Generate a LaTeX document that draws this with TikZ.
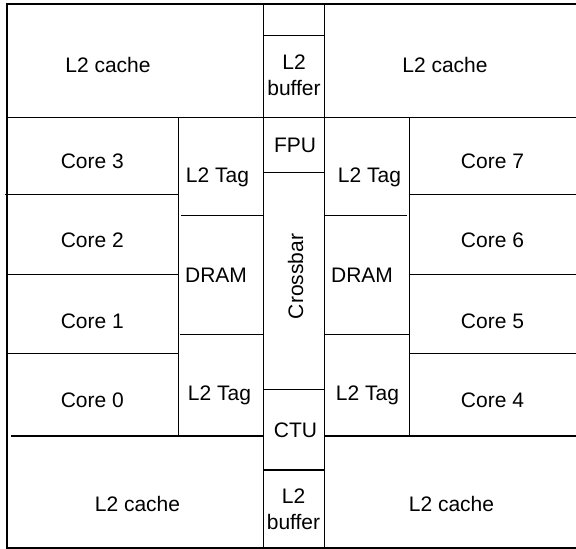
\documentclass[tikz,border=0pt]{standalone}
\usepackage{fontspec}
\setmainfont{Liberation Sans}
\begin{document}
\begin{tikzpicture}[x=0.5pt,y=-0.5pt,
  wall/.style={line width=0.75pt,black},
  lbl/.style={anchor=base,inner sep=0pt,font=\fontsize{10.5}{13}\selectfont},
]
\useasboundingbox (0,0) rectangle (576,549);
% outer frame (no right border)
\draw[wall] (576,4) -- (7,4) -- (7,548) -- (576,548);
\draw[wall] (7,117.3) -- (576,117.3);
% central column
\draw[wall] (263.3,4) -- (263.3,547);
\draw[wall] (324.3,4) -- (324.3,547);
\draw[wall] (263.3,35.7) -- (324.3,35.7);
\draw[wall] (263.3,172.7) -- (324.3,172.7);
\draw[wall] (263.3,389.3) -- (324.3,389.3);
\draw[wall] (263.3,470) -- (324.3,470);
% tag columns
\draw[wall] (178.3,117.3) -- (178.3,436);
\draw[wall] (409.3,117.3) -- (409.3,436);
% core separators
\draw[wall] (5,194.7) -- (178.3,194.7);
\draw[wall] (7,274.3) -- (178.3,274.3);
\draw[wall] (7,353.3) -- (178.3,353.3);
\draw[wall] (409.3,194.7) -- (576,194.7);
\draw[wall] (409.3,274.3) -- (576,274.3);
\draw[wall] (409.3,353.3) -- (576,353.3);
% tag / DRAM separators
\draw[wall] (181,215.7) -- (263.3,215.7);
\draw[wall] (180,334.3) -- (263.3,334.3);
\draw[wall] (325,215.7) -- (407,215.7);
\draw[wall] (324.3,334.3) -- (409.3,334.3);
% bottom cache separators
\draw[wall] (11,436) -- (263.3,436);
\draw[wall] (324.3,436) -- (576,436);
% labels
\node[lbl] (cacheTL) at (108,72.7) {L2 cache};
\node[lbl] (bufT) at (294,70) {\begin{tabular}[t]{@{}c@{}}L2\\buffer\end{tabular}};
\node[lbl] (cacheTR) at (445,72.7) {L2 cache};
\node[lbl] (fpu) at (295,153) {FPU};
\node[lbl] (core3) at (92.3,169) {Core 3};
\node[lbl] (tagLT) at (217.5,182.5) {L2 Tag};
\node[lbl] (tagRT) at (369.5,182.5) {L2 Tag};
\node[lbl] (core7) at (492.5,169) {Core 7};
\node[lbl] (core2) at (92.3,248) {Core 2};
\node[lbl] (dramL) at (216,283) {DRAM};
\node[lbl] (core1) at (92.3,328) {Core 1};
\node[lbl,rotate=90] (xbar) at (303,276.5) {Crossbar};
\node[lbl] (core6) at (492.5,248) {Core 6};
\node[lbl] (dramR) at (362,283) {DRAM};
\node[lbl] (core5) at (492.5,328) {Core 5};
\node[lbl] (core0) at (92.3,407) {Core 0};
\node[lbl] (tagLB) at (219.5,400) {L2 Tag};
\node[lbl] (ctu) at (295.5,437) {CTU};
\node[lbl] (cacheBL) at (137.5,511) {L2 cache};
\node[lbl] (bufB) at (293.5,503) {\begin{tabular}[t]{@{}c@{}}L2\\buffer\end{tabular}};
\node[lbl] (tagRB) at (367.5,400) {L2 Tag};
\node[lbl] (core4) at (492.5,407) {Core 4};
\node[lbl] (cacheBR) at (451.5,511) {L2 cache};
\end{tikzpicture}
\end{document}
